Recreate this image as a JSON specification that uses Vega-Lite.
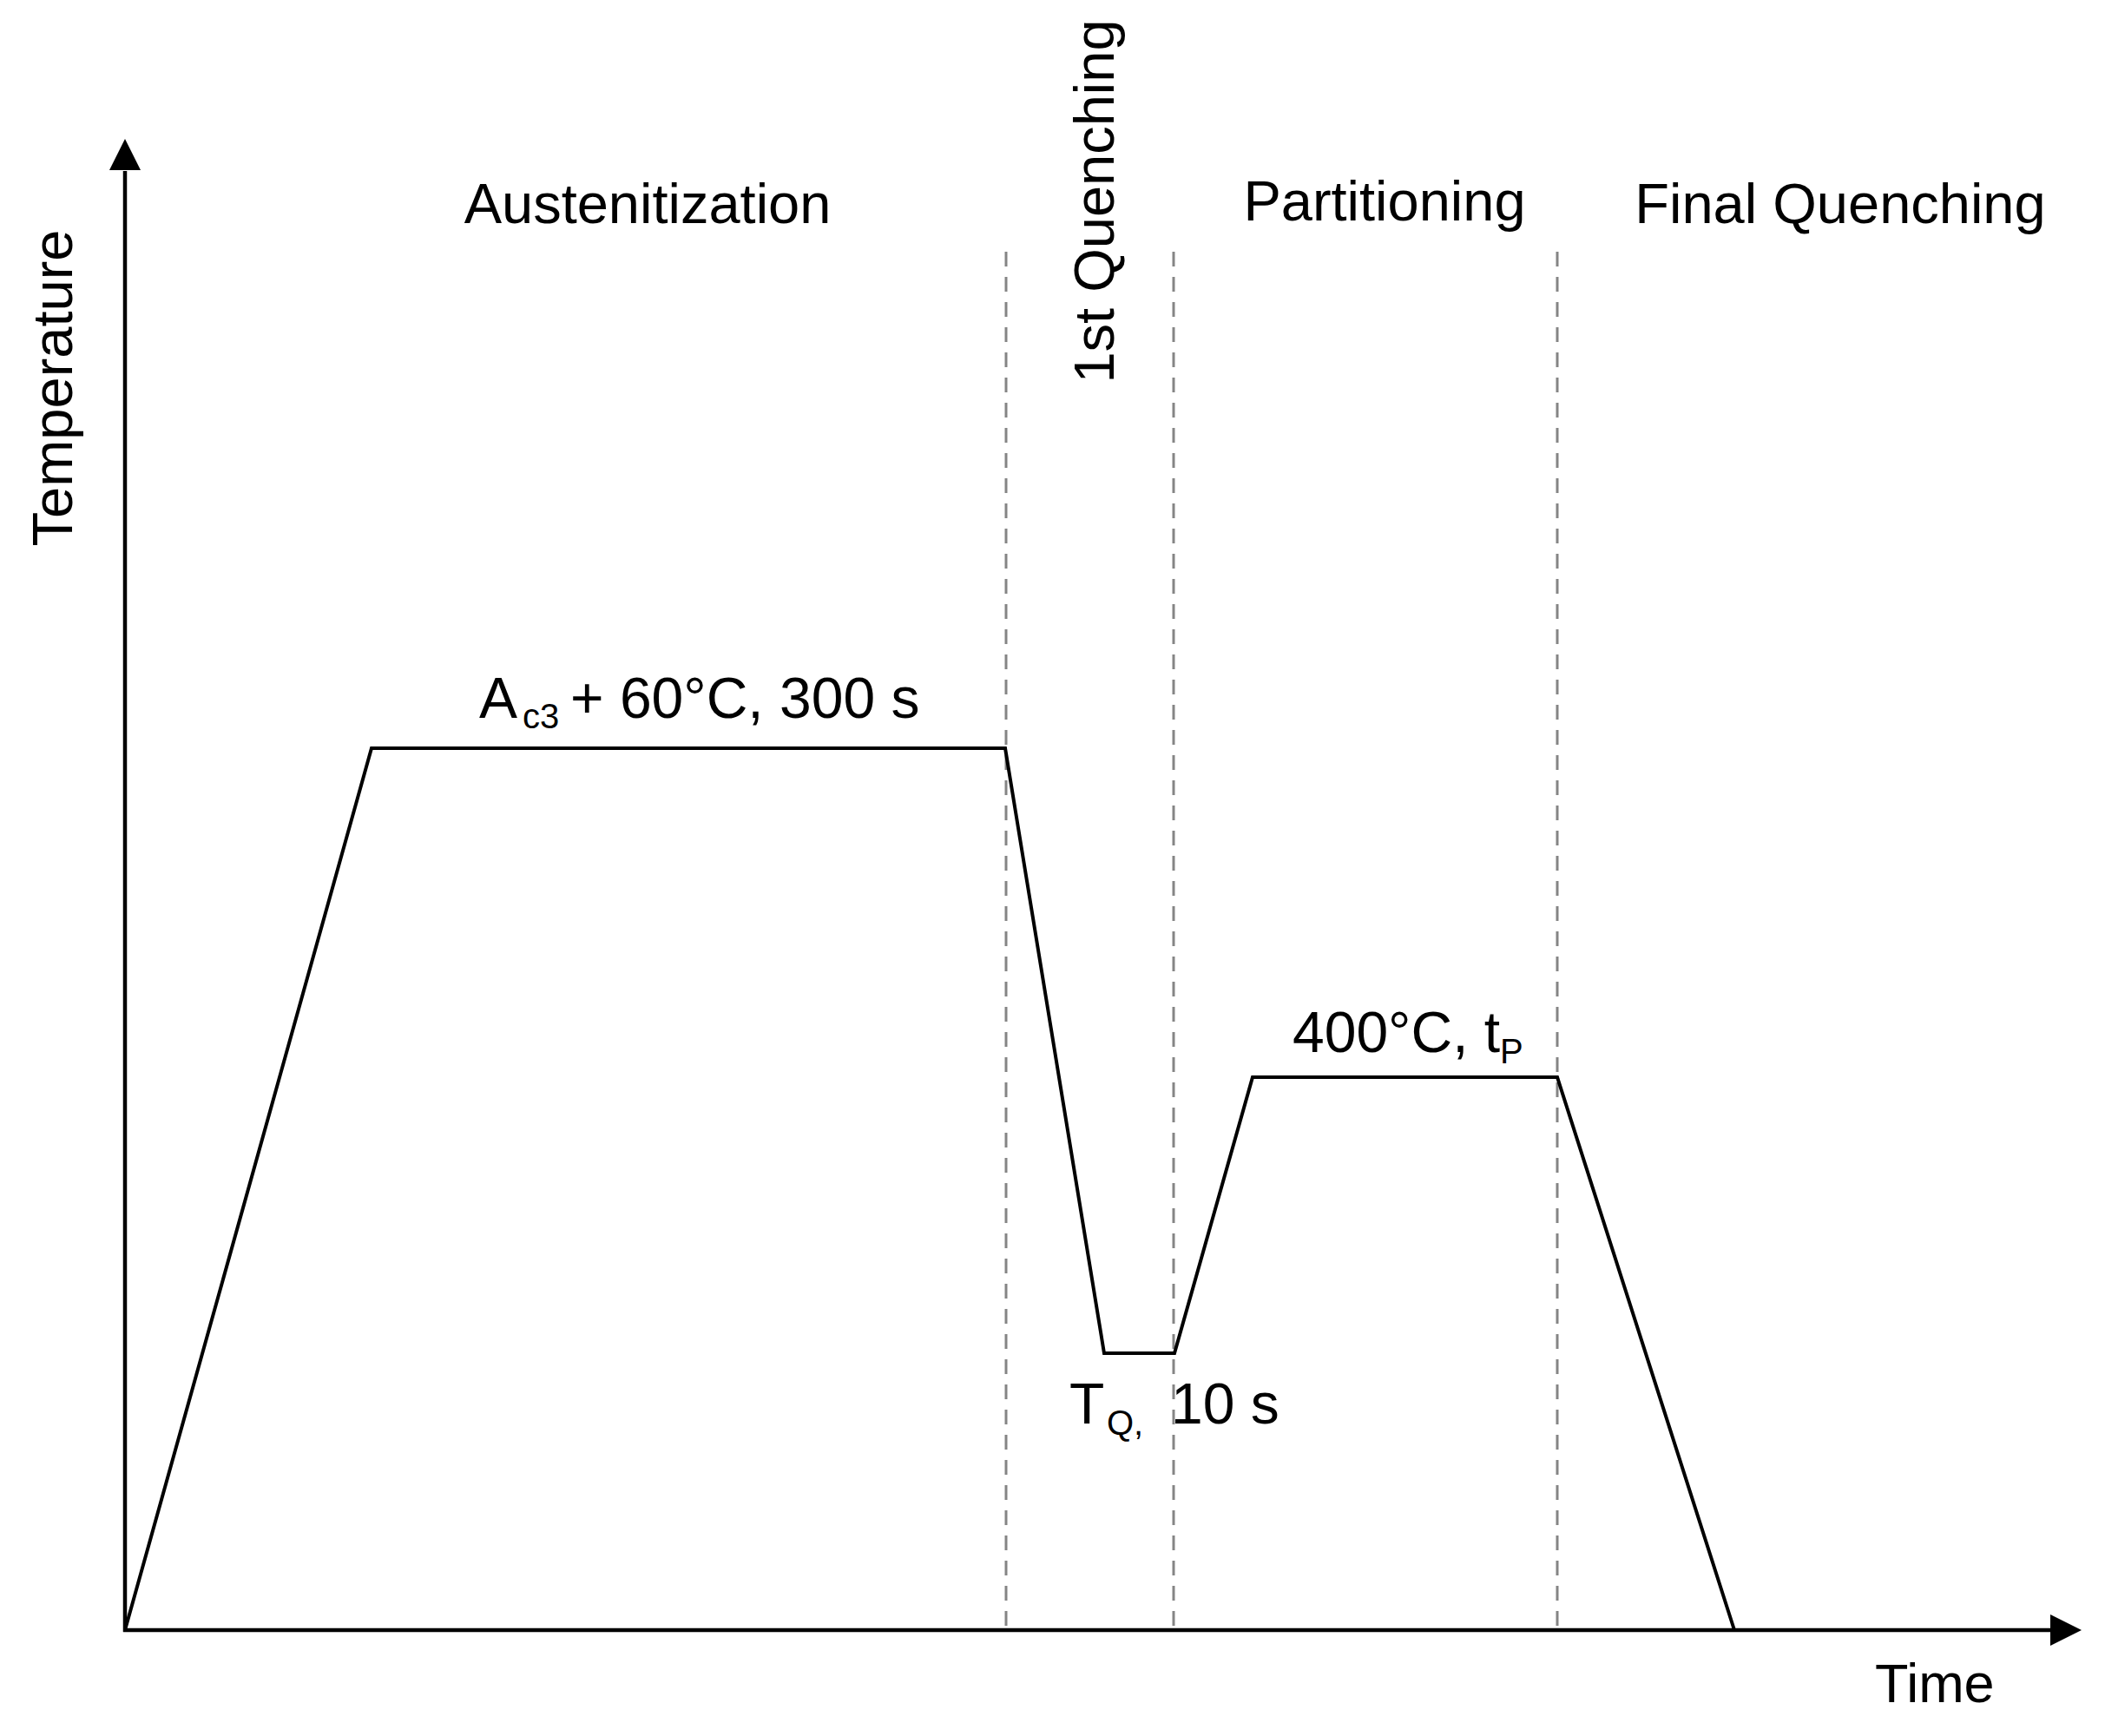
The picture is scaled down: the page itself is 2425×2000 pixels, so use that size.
{
  "$schema": "https://vega.github.io/schema/vega-lite/v6.json",
  "width": 2425,
  "height": 2000,
  "padding": 0,
  "autosize": {"type": "none"},
  "background": "white",
  "config": {"view": {"stroke": null}, "text": {"font": "Liberation Sans", "color": "#000000"}},
  "encoding": {
    "x": {"field": "t", "type": "quantitative", "scale": {"domain": [-144, 2281], "nice": false, "zero": false}, "axis": null},
    "y": {"field": "T", "type": "quantitative", "scale": {"domain": [-122, 1878], "nice": false, "zero": false}, "axis": null}
  },
  "layer": [
    {
      "data": {"values": [
        {"t": 1015, "T": 1588, "t2": 1015, "T2": 0},
        {"t": 1208, "T": 1588, "t2": 1208, "T2": 0},
        {"t": 1650, "T": 1588, "t2": 1650, "T2": 0}
      ]},
      "mark": {"type": "rule", "color": "#858585", "strokeWidth": 3, "strokeDash": [17, 12]},
      "encoding": {"x2": {"field": "t2"}, "y2": {"field": "T2"}}
    },
    {
      "data": {"values": [
        {"t": -2, "T": 0, "t2": 2218, "T2": 0},
        {"t": 0, "T": -2, "t2": 0, "T2": 1681}
      ]},
      "mark": {"type": "rule", "color": "#000000", "strokeWidth": 4.5},
      "encoding": {"x2": {"field": "t2"}, "y2": {"field": "T2"}}
    },
    {
      "data": {"values": [{"t": 0, "T": 1700}]},
      "mark": {"type": "point", "shape": "M0,-1L-1,1L1,1Z", "size": 1296, "filled": true, "color": "#000000", "opacity": 1, "strokeWidth": 0}
    },
    {
      "data": {"values": [{"t": 2236, "T": 0}]},
      "mark": {"type": "point", "shape": "M1,0L-1,-1L-1,1Z", "size": 1296, "filled": true, "color": "#000000", "opacity": 1, "strokeWidth": 0}
    },
    {
      "data": {"values": [
        {"i": 0, "t": 0, "T": 0},
        {"i": 1, "t": 284, "T": 1016},
        {"i": 2, "t": 1014, "T": 1016},
        {"i": 3, "t": 1128, "T": 319},
        {"i": 4, "t": 1209, "T": 319},
        {"i": 5, "t": 1299, "T": 637},
        {"i": 6, "t": 1650, "T": 637},
        {"i": 7, "t": 1854, "T": 0}
      ]},
      "mark": {"type": "line", "color": "#000000", "strokeWidth": 4, "strokeJoin": "miter"},
      "encoding": {"order": {"field": "i", "type": "quantitative"}}
    },
    {
      "data": {"values": [
        {"t": 602, "T": 1621, "label": "Austenitization"},
        {"t": 1451, "T": 1624, "label": "Partitioning"},
        {"t": 1976, "T": 1621, "label": "Final Quenching"}
      ]},
      "mark": {"type": "text", "fontSize": 65, "align": "center", "baseline": "alphabetic"},
      "encoding": {"text": {"field": "label"}}
    },
    {
      "data": {"values": [
        {"t": 1139, "T": 1646, "label": "1st Quenching"},
        {"t": -61, "T": 1431, "label": "Temperature"}
      ]},
      "mark": {"type": "text", "fontSize": 65, "align": "center", "baseline": "alphabetic", "angle": 270},
      "encoding": {"text": {"field": "label"}}
    },
    {
      "data": {"values": [
        {"t": 408, "T": 1051, "label": "A"},
        {"t": 513, "T": 1051, "label": "+ 60°C, 300 s"},
        {"t": 1345, "T": 666, "label": "400°C, t"},
        {"t": 1088, "T": 238, "label": "T"},
        {"t": 1205, "T": 238, "label": "10 s"}
      ]},
      "mark": {"type": "text", "fontSize": 66, "align": "left", "baseline": "alphabetic"},
      "encoding": {"text": {"field": "label"}}
    },
    {
      "data": {"values": [
        {"t": 458, "T": 1039, "label": "c3"},
        {"t": 1584, "T": 653, "label": "P"},
        {"t": 1131, "T": 225, "label": "Q,"}
      ]},
      "mark": {"type": "text", "fontSize": 40, "align": "left", "baseline": "alphabetic"},
      "encoding": {"text": {"field": "label"}}
    },
    {
      "data": {"values": [{"t": 2016, "T": -83, "label": "Time"}]},
      "mark": {"type": "text", "fontSize": 63, "align": "left", "baseline": "alphabetic"},
      "encoding": {"text": {"field": "label"}}
    }
  ]
}
